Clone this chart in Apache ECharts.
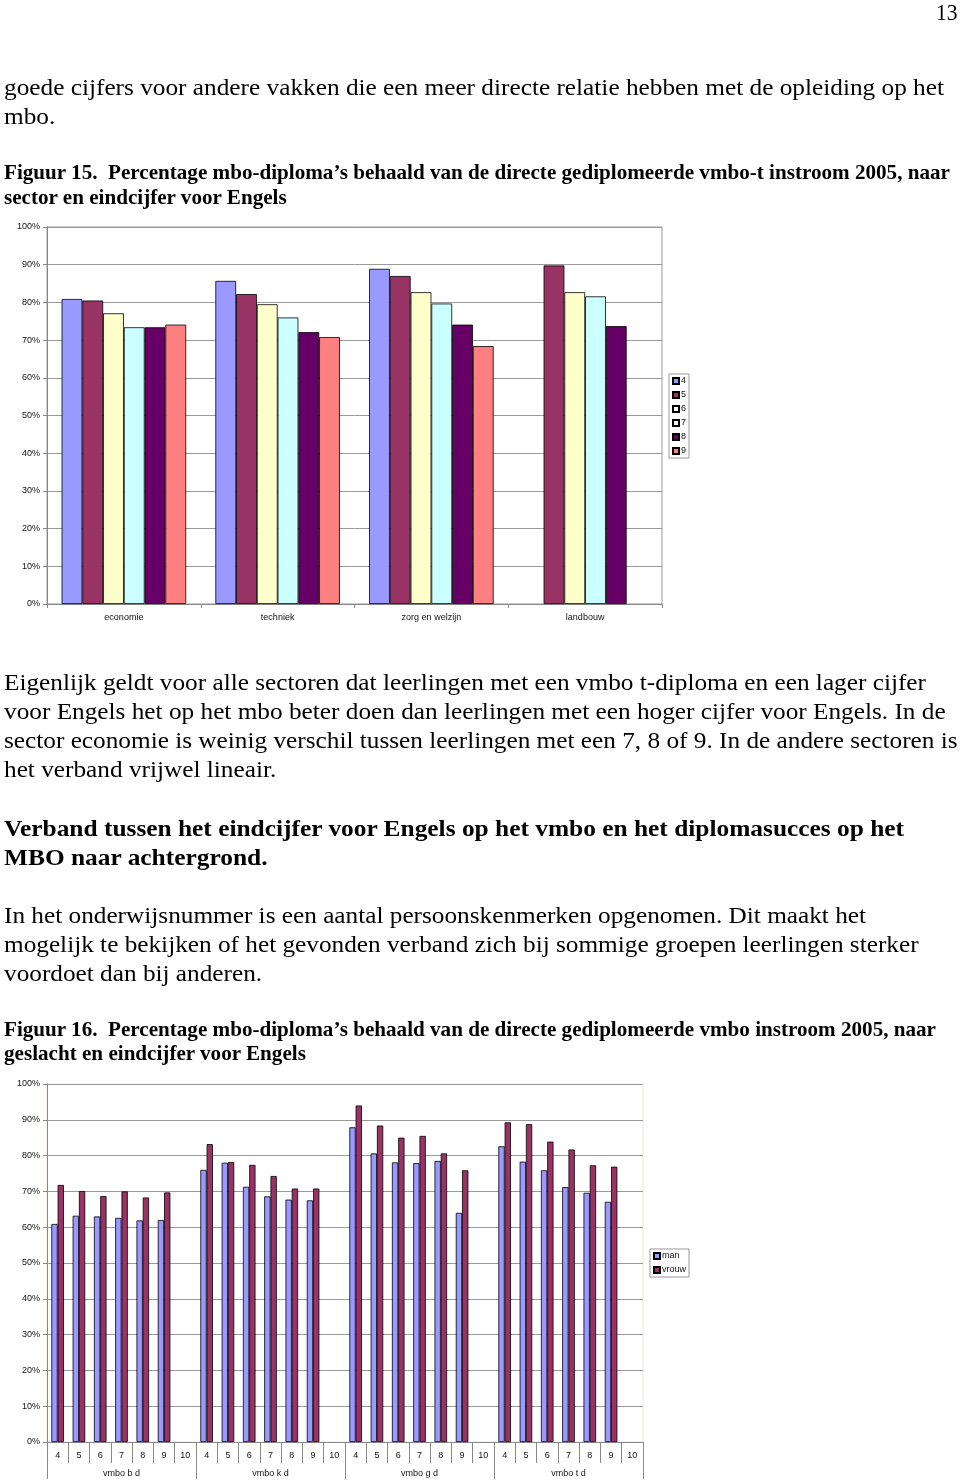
<!DOCTYPE html>
<html><head><meta charset="utf-8">
<script src="https://cdn.jsdelivr.net/npm/echarts@6/dist/echarts.min.js"></script>
<style>
html,body{margin:0;padding:0;background:#fff;}
#page{position:relative;width:960px;height:1483px;overflow:hidden;background:#fff;}
#chart{position:absolute;left:0;top:0;width:960px;height:1483px;}
.ln{position:absolute;left:4px;white-space:pre;font-family:"Liberation Serif","Times New Roman",Times,serif;color:#000;transform-origin:0 50%;}
.b{font-weight:bold;}
</style></head><body>
<div id="page"><div id="chart"></div><div id="text"></div></div>
<script>
// ---------- Figure 15 data ----------
const sectorCats = ['economie', 'techniek', 'zorg en welzijn', 'landbouw'];
const gradeNames = ['4', '5', '6', '7', '8', '9'];
const grade4 = [80.9, 85.7, 88.9, null];
const grade5 = [80.5, 82.2, 87.0, 89.8];
const grade6 = [77.1, 79.5, 82.7, 82.7];
const grade7 = [73.4, 76.0, 79.7, 81.6];
const grade8 = [73.4, 72.1, 74.1, 73.7];
const grade9 = [74.1, 70.8, 68.4, null];

// ---------- Figure 16 data ----------
const schoolGroups = ['vmbo b d', 'vmbo k d', 'vmbo g d', 'vmbo t d'];
const gradeLabels = ['4', '5', '6', '7', '8', '9', '10'];
const manVals = [
  60.9, 63.2, 63.0, 62.6, 61.9, 62.0, null,
  76.0, 78.0, 71.3, 68.6, 67.7, 67.5, null,
  87.9, 80.6, 78.1, 77.9, 78.5, 64.0, null,
  82.6, 78.3, 75.9, 71.2, 69.6, 67.1, null
];
const vrouwVals = [
  71.8, 70.1, 68.7, 70.0, 68.3, 69.7, null,
  83.2, 78.2, 77.4, 74.3, 70.8, 70.8, null,
  94.0, 88.4, 85.0, 85.5, 80.6, 75.9, null,
  89.3, 88.8, 83.9, 81.7, 77.3, 76.9, null
];
const genderNames = ['man', 'vrouw'];

// ---------- page text ----------
const pageNumber = '13';
const para1 = ['goede cijfers voor andere vakken die een meer directe relatie hebben met de opleiding op het', 'mbo.'];
const caption15 = ['Figuur 15.  Percentage mbo-diploma\u2019s behaald van de directe gediplomeerde vmbo-t instroom 2005, naar', 'sector en eindcijfer voor Engels'];
const para2 = ['Eigenlijk geldt voor alle sectoren dat leerlingen met een vmbo t-diploma en een lager cijfer',
  'voor Engels het op het mbo beter doen dan leerlingen met een hoger cijfer voor Engels. In de',
  'sector economie is weinig verschil tussen leerlingen met een 7, 8 of 9. In de andere sectoren is',
  'het verband vrijwel lineair.'];
const heading = ['Verband tussen het eindcijfer voor Engels op het vmbo en het diplomasucces op het', 'MBO naar achtergrond.'];
const para3 = ['In het onderwijsnummer is een aantal persoonskenmerken opgenomen. Dit maakt het',
  'mogelijk te bekijken of het gevonden verband zich bij sommige groepen leerlingen sterker',
  'voordoet dan bij anderen.'];
const caption16 = ['Figuur 16.  Percentage mbo-diploma\u2019s behaald van de directe gediplomeerde vmbo instroom 2005, naar', 'geslacht en eindcijfer voor Engels'];

// layout of text blocks
const blocks = [
  {lines: para1, centers: [87, 116], size: 24, bold: false, right: 944},
  {lines: caption15, centers: [172, 197], size: 21, bold: true, right: 950},
  {lines: para2, centers: [682, 711, 740, 769], size: 24, bold: false, right: 926},
  {lines: heading, centers: [828, 857], size: 24, bold: true, right: 904},
  {lines: para3, centers: [915, 944, 973], size: 24, bold: false, right: 866},
  {lines: caption16, centers: [1029, 1053], size: 21, bold: true, right: 936}
];
const textHost = document.getElementById('text');
blocks.forEach(function (bk) {
  const els = bk.lines.map(function (t, i) {
    const d = document.createElement('div');
    d.className = 'ln' + (bk.bold ? ' b' : '');
    d.textContent = t;
    const lh = Math.round(bk.size * 1.3);
    d.style.fontSize = bk.size + 'px';
    d.style.lineHeight = lh + 'px';
    d.style.top = (bk.centers[i] - lh / 2) + 'px';
    textHost.appendChild(d);
    return d;
  });
  const w = els[0].getBoundingClientRect().width;
  const s = (bk.right - 4) / w;
  els.forEach(function (d) { d.style.transform = 'scaleX(' + s.toFixed(4) + ')'; });
});
(function () {
  const d = document.createElement('div');
  d.className = 'ln';
  d.textContent = pageNumber;
  d.style.fontSize = '24px';
  d.style.lineHeight = '28px';
  d.style.top = (12 - 14) + 'px';
  textHost.appendChild(d);
  const w = d.getBoundingClientRect().width;
  d.style.left = (958 - w * 0.9) + 'px';
  d.style.transform = 'scaleX(0.9)';
})();

// ---------- chart ----------
const chart = echarts.init(document.getElementById('chart'), null, {renderer: 'canvas'});
const sectorColors = ['#9999FF', '#993366', '#FFFFCC', '#CCFFFF', '#660066', '#FF8080'];
const genderColors = ['#9999FF', '#993366'];
const gradeSeries = [grade4, grade5, grade6, grade7, grade8, grade9];
const gradeCats28 = [];
schoolGroups.forEach(function () { gradeLabels.forEach(function (g) { gradeCats28.push(g); }); });

const axisFont = {fontFamily: 'Liberation Sans, Arial, sans-serif', fontSize: 9, color: '#111'};
const grayLine = {color: '#888', width: 1};

function yAxisFor(idx, margin) {
  return {
    type: 'value', gridIndex: idx, min: 0, max: 100, interval: 10,
    axisLine: {show: true, lineStyle: grayLine},
    axisTick: {show: true, length: 4, lineStyle: grayLine},
    axisLabel: Object.assign({formatter: '{value}%', margin: margin}, axisFont),
    splitLine: {show: true, lineStyle: {color: '#999', width: 1}}
  };
}

const series = [];
gradeSeries.forEach(function (vals, i) {
  series.push({
    name: gradeNames[i], type: 'bar', xAxisIndex: 0, yAxisIndex: 0,
    data: vals, barGap: '0%', barCategoryGap: '19%',
    itemStyle: {color: sectorColors[i], borderColor: '#000', borderWidth: 0.8}
  });
});
[manVals, vrouwVals].forEach(function (vals, i) {
  series.push({
    name: genderNames[i], type: 'bar', xAxisIndex: 1, yAxisIndex: 1,
    data: vals, barGap: '0%', barCategoryGap: '41%',
    itemStyle: {color: genderColors[i], borderColor: '#000', borderWidth: 0.8}
  });
});

const legendCommon = {
  orient: 'vertical', icon: 'rect', itemWidth: 6, itemHeight: 6, itemGap: 4,
  padding: [2, 3], borderColor: '#999', borderWidth: 1, backgroundColor: '#fff',
  selectedMode: false,
  textStyle: {fontFamily: 'Liberation Sans, Arial, sans-serif', fontSize: 9, color: '#111', lineHeight: 10, padding: [0, 0, 0, -3]}
};

chart.setOption({
  animation: false,
  backgroundColor: 'transparent',
  grid: [
    {left: 47, top: 227, width: 615, height: 377, show: true, borderColor: '#999', borderWidth: 1},
    {left: 47, top: 1084, width: 596, height: 358, show: true, borderColor: '#eeead0', borderWidth: 1}
  ],
  xAxis: [
    {type: 'category', gridIndex: 0, data: sectorCats,
     axisLine: {show: true, lineStyle: grayLine},
     axisTick: {show: true, length: 4, lineStyle: grayLine},
     axisLabel: Object.assign({margin: 9}, axisFont)},
    {type: 'category', gridIndex: 1, data: gradeCats28, position: 'bottom',
     axisLine: {show: true, lineStyle: grayLine},
     axisTick: {show: true, length: 21, interval: 0, lineStyle: grayLine},
     axisLabel: Object.assign({margin: 9, interval: 0}, axisFont)},
    {type: 'category', gridIndex: 1, data: schoolGroups, position: 'bottom',
     axisLine: {show: false},
     axisTick: {show: true, length: 37, interval: 0, lineStyle: grayLine},
     axisLabel: Object.assign({margin: 27, interval: 0}, axisFont)}
  ],
  yAxis: [yAxisFor(0, 7), yAxisFor(1, 7)],
  legend: [
    Object.assign({data: gradeNames, left: 669, top: 374}, legendCommon),
    Object.assign({data: genderNames, left: 650, top: 1249}, legendCommon)
  ],
  series: series
});
</script>
</body></html>
